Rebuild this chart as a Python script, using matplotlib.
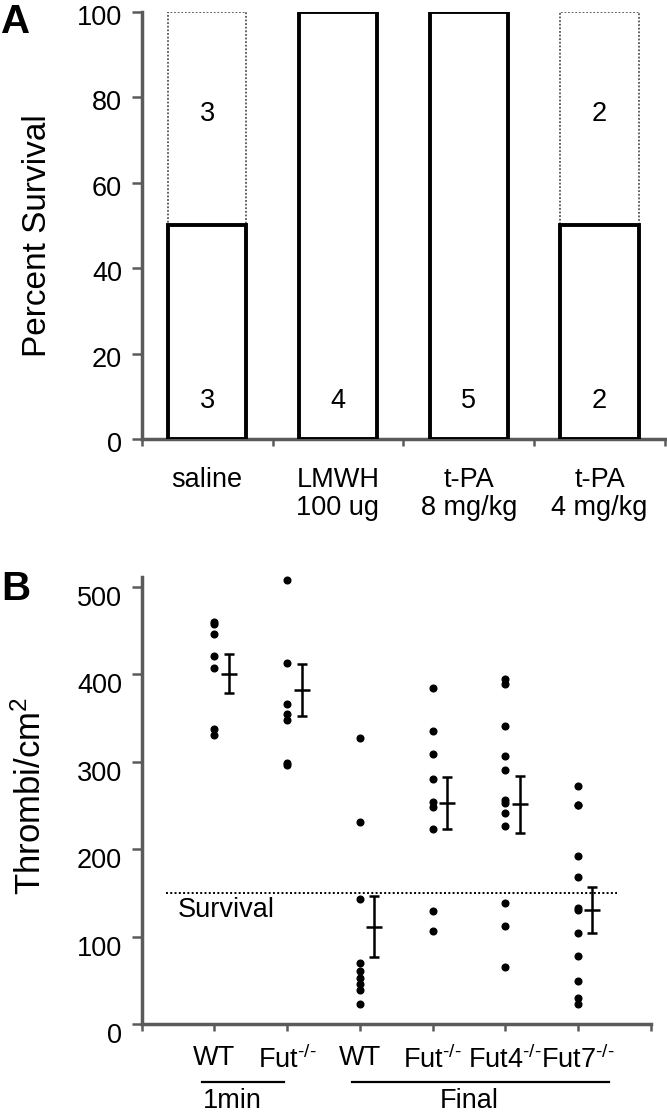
import matplotlib
matplotlib.use("Agg")
import matplotlib.pyplot as plt
import matplotlib.transforms as mtransforms
import numpy as np

plt.rcParams['font.family'] = ['Liberation Sans', 'DejaVu Sans']
plt.rcParams['mathtext.default'] = 'regular'

# --- Panel A: survival per treatment ---
treatments = ['saline', 'LMWH\n100 ug', 't-PA\n8 mg/kg', 't-PA\n4 mg/kg']
pct_survival = [50, 100, 100, 50]
n_survived = [3, 4, 5, 2]
n_died = [3, 0, 0, 2]

# --- Panel B: thrombi per cm2 ---
# superscript "-/-" drawn with real hyphens (mathtext turns "-" into a wide minus)
ko = '$^{\u2010/\u2010}$'
groups = ['WT', 'Fut' + ko, 'WT', 'Fut' + ko, 'Fut4' + ko, 'Fut7' + ko]
wt_1min = [459, 457, 446, 421, 407, 337, 330]
fut_1min = [507, 413, 366, 355, 348, 298, 296]
wt_final = [327, 231, 143, 70, 61, 53, 46, 39, 23]
fut_final = [384, 335, 309, 280, 254, 248, 223, 129, 107]
fut4_final = [394, 389, 341, 307, 290, 256, 253, 241, 227, 139, 112, 65]
fut7_final = [272, 251, 250, 192, 168, 133, 131, 104, 78, 49, 30, 23]
group_means = [400.5, 382, 111.6, 253, 251.4, 130.6]
group_sem = [22.5, 29.4, 34.5, 29.7, 32.7, 26.7]
survival_cutoff = 150
timepoints = ['1min', 'Final']
timepoint_span = [(0.83, 1.96), (2.89, 6.43)]

axis_grey = '#5a5a5a'
fs = 19.5

fig = plt.figure(figsize=(6.67, 11.13), dpi=100)


def style_axes(ax):
    for side in ['top', 'right']:
        ax.spines[side].set_visible(False)
    for side in ['left', 'bottom']:
        ax.spines[side].set_color(axis_grey)
        ax.spines[side].set_linewidth(2.5)
    ax.tick_params(axis='y', which='both', direction='out', length=7, width=1.8,
                   color=axis_grey, labelsize=fs, pad=7)
    ax.tick_params(axis='x', which='minor', direction='out', length=5, width=1.8,
                   color=axis_grey)


def shift_labels(labels, dy_px):
    off = mtransforms.ScaledTranslation(0, -dy_px / 100, fig.dpi_scale_trans)
    for lab in labels:
        lab.set_transform(lab.get_transform() + off)


# Panel A
axA = fig.add_axes([0.2124, 0.6053, 0.7846, 0.3842])
style_axes(axA)
xa = np.arange(len(treatments)) + 0.5
axA.bar(xa, pct_survival, width=0.6, facecolor='white', edgecolor='black',
        linewidth=2.8, zorder=3)
died_pct = [100 - p for p in pct_survival]
for x, p, d, nd in zip(xa, pct_survival, died_pct, n_died):
    if nd > 0:
        axA.bar(x, d, bottom=p, width=0.6, facecolor='white', edgecolor='#555555',
                linewidth=1.3, linestyle=(0, (1, 1)), zorder=2)
for x, ns, nd in zip(xa, n_survived, n_died):
    axA.text(x, 9, str(ns), ha='center', va='center', fontsize=fs, zorder=4)
    if nd > 0:
        axA.text(x, 76, str(nd), ha='center', va='center', fontsize=fs, zorder=4)
axA.set_xlim(0, 4)
axA.set_ylim(0, 100)
axA.set_yticks([0, 20, 40, 60, 80, 100])
axA.set_xticks(xa)
axA.set_xticklabels(treatments, fontsize=fs, linespacing=1.1)
axA.tick_params(axis='x', which='major', length=0, pad=20)
axA.set_xticks(np.arange(0, 5), minor=True)
shift_labels(axA.get_yticklabels(), 3)
fig.text(38 / 667, 1 - 236 / 1113, 'Percent Survival', rotation=90,
         ha='center', va='center', fontsize=24)
fig.text(0.002, 0.997, 'A', ha='left', va='top', fontsize=29, fontweight='bold')

# Panel B
axB = fig.add_axes([0.2124, 0.0797, 0.7631, 0.4019])
style_axes(axB)
series = [wt_1min, fut_1min, wt_final, fut_final, fut4_final, fut7_final]
xb = np.arange(1, len(groups) + 1)
for x, vals in zip(xb, series):
    axB.plot([x] * len(vals), vals, 'o', color='black', markersize=4.8, zorder=3,
             clip_on=False)
axB.errorbar(xb + 0.2, group_means, yerr=group_sem, fmt='none', ecolor='black',
             elinewidth=1.8, capsize=3.8, capthick=1.8, zorder=3)
axB.plot(xb + 0.2, group_means, '_', color='black', markersize=11, mew=1.8, zorder=3)
axB.plot([0.34, 6.54], [survival_cutoff, survival_cutoff], color='black', lw=1.4,
         linestyle=(0, (1, 1.2)), zorder=2)
axB.text(0.49, 130, 'Survival', ha='left', va='center', fontsize=fs)
axB.set_xlim(0, 7)
axB.set_ylim(0, 511)
axB.set_yticks([0, 100, 200, 300, 400, 500])
axB.set_xticks(xb)
axB.set_xticklabels(groups, fontsize=fs)
axB.tick_params(axis='x', which='major', direction='out', length=5, width=1.8,
                color=axis_grey, pad=10)
axB.set_xticks([0, 7], minor=True)
shift_labels(axB.get_yticklabels(), 9)
fig.text(31 / 667, 1 - 796 / 1113, 'Thrombi/cm$^2$', rotation=90,
         ha='center', va='center', fontsize=25)
fig.text(0.002, 1 - 570 / 1113, 'B', ha='left', va='top', fontsize=29, fontweight='bold')

trans = mtransforms.blended_transform_factory(axB.transData, fig.transFigure)
for name, (x0, x1) in zip(timepoints, timepoint_span):
    axB.plot([x0, x1], [1 - 1081.7 / 1113] * 2, color='black', lw=1.6,
             transform=trans, clip_on=False)
    axB.text((x0 + x1) / 2 - 0.15, 1 - 1088 / 1113, name, ha='center', va='top',
             fontsize=fs, transform=trans)

fig.savefig('out.png', dpi=100)
